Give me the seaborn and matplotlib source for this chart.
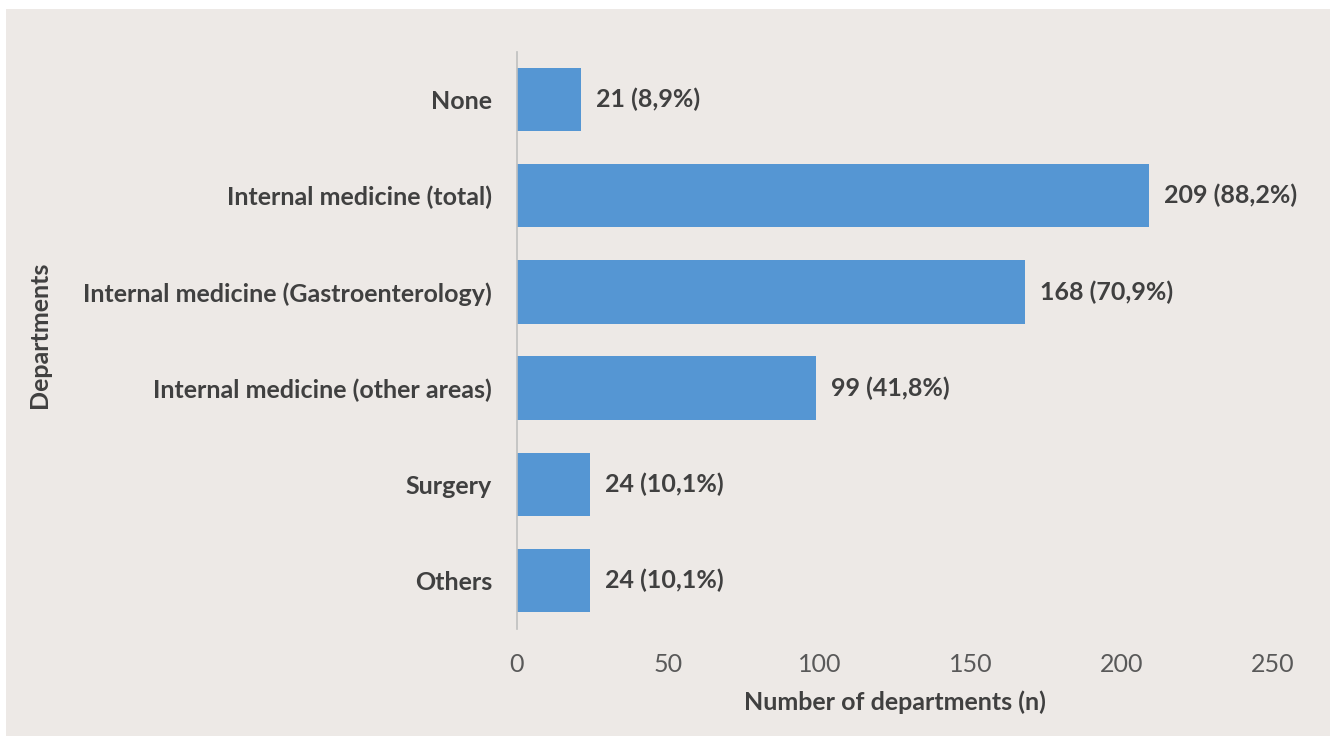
import pandas as pd
import seaborn as sns
import matplotlib.pyplot as plt
from matplotlib.patches import Rectangle

departments = ["None", "Internal medicine (total)", "Internal medicine (Gastroenterology)",
               "Internal medicine (other areas)", "Surgery", "Others"]
counts = [21, 209, 168, 99, 24, 24]
labels = ["21 (8,9%)", "209 (88,2%)", "168 (70,9%)", "99 (41,8%)", "24 (10,1%)", "24 (10,1%)"]

df = pd.DataFrame({"Departments": departments, "n": counts})

bg = "#EDE9E6"
sns.set_style("white")
plt.rcParams["font.family"] = ["Lato", "DejaVu Sans"]

fig = plt.figure(figsize=(13.3, 7.37), dpi=100)
fig.patch.set_facecolor("white")
fig.patches.append(Rectangle((6 / 1330, 1 / 737), 1, 1 - 10 / 737, transform=fig.transFigure,
                             facecolor=bg, edgecolor="none", zorder=-10))
ax = fig.add_axes([517 / 1330, 1 - 628.5 / 737, 756 / 1330, 577 / 737])
ax.set_facecolor(bg)

sns.barplot(data=df, x="n", y="Departments", orient="h", color="#5596D3",
            width=0.66, saturation=1, linewidth=0, ax=ax)

for i, (v, lab) in enumerate(zip(counts, labels)):
    ax.text(v + 5, i, lab, va="center", ha="left", fontsize=18, fontweight="bold", color="#404040")

ax.set_xlim(0, 250)
ax.set_ylim(5.5, -0.5)
ax.set_xticks([0, 50, 100, 150, 200, 250])
ax.tick_params(axis="x", length=0, labelsize=18, labelcolor="#595959", pad=18)
ax.tick_params(axis="y", length=0, labelsize=18, labelcolor="#404040", pad=18)
for t in ax.get_yticklabels():
    t.set_fontweight("bold")

for s in ["top", "right", "bottom"]:
    ax.spines[s].set_visible(False)
ax.spines["left"].set_color("#BFBFBF")
ax.spines["left"].set_linewidth(1.2)

ax.set_xlabel("Number of departments (n)", fontsize=18, fontweight="bold", color="#404040", labelpad=10)
ax.set_ylabel("")
fig.text(40 / 1330, 1 - 335 / 737, "Departments", rotation=90, ha="center", va="center",
         fontsize=18, fontweight="bold", color="#404040")

fig.savefig("out.png", dpi=100)
